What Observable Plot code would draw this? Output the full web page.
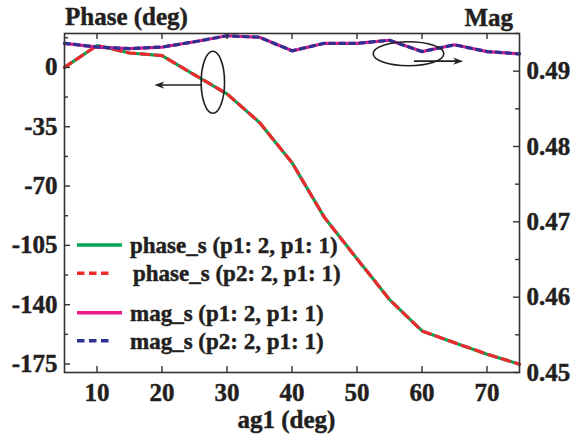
<!DOCTYPE html>
<html><head><meta charset="utf-8">
<script src="https://cdn.jsdelivr.net/npm/d3@7"></script>
<script src="https://cdn.jsdelivr.net/npm/@observablehq/plot@0.6"></script>
<style>
body{margin:0;background:#fff} svg{display:block}
svg text{font-family:'Liberation Serif','Times New Roman',serif !important;font-weight:bold !important;stroke:#231f20;stroke-width:0.45px;paint-order:stroke}
</style>
</head><body><div id="chart"></div>
<script>
// ---- data ----
const angle = [5, 10, 15, 20, 25, 30, 35, 40, 45, 50, 55, 60, 65, 70, 75];
const phaseP1 = [0, 12.9, 8.5, 7.0, -4.4, -15.6, -32.5, -56.2, -88.6, -112.9, -137, -155.5, -162.4, -169.2, -175.1];
const phaseP2 = [0, 12.9, 8.5, 7.0, -4.4, -15.6, -32.5, -56.2, -88.6, -112.9, -137, -155.5, -162.4, -169.2, -175.1];
const magP1 = [0.4937, 0.4932, 0.4930, 0.4932, 0.4939, 0.4947, 0.4945, 0.4927, 0.4937, 0.4937, 0.4941, 0.4926, 0.4935, 0.4926, 0.4923];
const magP2 = [0.4937, 0.4932, 0.4930, 0.4932, 0.4939, 0.4947, 0.4945, 0.4927, 0.4937, 0.4937, 0.4941, 0.4926, 0.4935, 0.4926, 0.4923];
const angleTicks = [10, 20, 30, 40, 50, 60, 70];
const phaseTicks = [0, -35, -70, -105, -140, -175];
const phaseMinorTicks = [17.5, -17.5, -52.5, -87.5, -122.5, -157.5];
const magTicks = [0.45, 0.46, 0.47, 0.48, 0.49];
const magMinorTicks = [0.455, 0.465, 0.475, 0.485, 0.495];
const seriesNames = ["phase_s (p1: 2, p1: 1)", "phase_s (p2: 2, p1: 1)", "mag_s (p1: 2, p1: 1)", "mag_s (p2: 2, p1: 1)"];
const seriesColors = ["#00a651", "#ee2a2f", "#ec1c8c", "#2e3192"];
const seriesDash = [null, "8,6", null, "5,5"];

// ---- layout ----
const W = 573, H = 440, mL = 64, mR = 54, mT = 33, mB = 68;
const frameH = H - mT - mB;
const phaseDomain = [-180, 20], magDomain = [0.45, 0.495];
const magToPhase = m => phaseDomain[0] + (m - magDomain[0]) / (magDomain[1] - magDomain[0]) * (phaseDomain[1] - phaseDomain[0]);
const phaseToMag = p => magDomain[0] + (p - phaseDomain[0]) / (phaseDomain[1] - phaseDomain[0]) * (magDomain[1] - magDomain[0]);
const rows = (ys, map = v => v) => angle.map((a, i) => ({angle: a, value: map(ys[i])}));
const ink = "#231f20";
const font = "'Liberation Serif', 'Times New Roman', serif";

const lineMark = (ys, k, map) => Plot.line(rows(ys, map), {
  x: "angle", y: "value", stroke: seriesColors[k], strokeWidth: 3.2,
  strokeDasharray: seriesDash[k]
});
const axisText = {fontSize: 25, fontWeight: "bold", fill: ink, tickSize: 0, label: null};

const plot = Plot.plot({
  width: W, height: H,
  marginLeft: mL, marginRight: mR, marginTop: mT, marginBottom: mB,
  style: {fontFamily: font, fontWeight: "bold", fontSize: "24px", color: ink, background: "white"},
  x: {domain: [5, 75]},
  y: {domain: phaseDomain},
  marks: [
    lineMark(phaseP1, 0),
    lineMark(phaseP2, 1),
    lineMark(magP1, 2, magToPhase),
    lineMark(magP2, 3, magToPhase),
    Plot.frame({stroke: "#333", strokeWidth: 1.6}),
    // inward ticks
    Plot.tickX(angleTicks, {x: d => d, insetTop: frameH - 6, stroke: "#333", strokeWidth: 1.4}),
    Plot.tickX(angleTicks, {x: d => d, insetBottom: frameH - 6, stroke: "#333", strokeWidth: 1.4}),
    Plot.tickY(phaseTicks, {y: d => d, insetRight: W - mL - mR - 6, stroke: "#333", strokeWidth: 1.4}),
    Plot.tickY(phaseMinorTicks, {y: d => d, insetRight: W - mL - mR - 4, stroke: "#333", strokeWidth: 1.4}),
    Plot.tickY(magTicks.map(magToPhase), {y: d => d, insetLeft: W - mL - mR - 6, stroke: "#333", strokeWidth: 1.4}),
    Plot.tickY(magMinorTicks.map(magToPhase), {y: d => d, insetLeft: W - mL - mR - 4, stroke: "#333", strokeWidth: 1.4}),
    // tick labels
    Plot.axisX({...axisText, ticks: angleTicks, tickPadding: 11, tickFormat: d => String(d)}),
    Plot.axisY({...axisText, ticks: phaseTicks, tickPadding: 7, tickFormat: d => String(d)}),
    Plot.axisY({...axisText, anchor: "right", ticks: magTicks.map(magToPhase), tickPadding: 7,
      tickFormat: d => phaseToMag(d).toFixed(2)})
  ]
});

document.getElementById("chart").appendChild(plot);

const svg = d3.select(plot);
const sx = v => plot.scale("x").apply(v);
const sy = v => plot.scale("y").apply(v);

// titles
const addText = (sel, x, y, t, size, anchor = "start") => sel.append("text")
  .attr("x", x).attr("y", y).attr("text-anchor", anchor)
  .style("font-size", size + "px")
  .attr("fill", ink).text(t);
addText(svg, mL + 1, 25, "Phase (deg)", 25);
addText(svg, W - mR - 6, 26, "Mag", 25, "end");
addText(svg, (mL + W - mR) / 2 - 5, 428, "ag1 (deg)", 25, "middle");

// annotations: ellipses + arrows (placed in data coordinates)
const ann = svg.append("g").attr("fill", "none").attr("stroke", ink).attr("stroke-width", 1.6);
ann.append("ellipse").attr("cx", sx(27.9)).attr("cy", sy(-9.1)).attr("rx", 11.7).attr("ry", 31);
ann.append("ellipse").attr("cx", sx(58.0)).attr("cy", sy(7.8)).attr("rx", 35.3).attr("ry", 12);
const arrow = (x1, x2, yv) => {
  const X1 = sx(x1), X2 = sx(x2), Y = sy(yv), d = Math.sign(X2 - X1);
  ann.append("line").attr("x1", X1).attr("x2", X2 - d * 5).attr("y1", Y).attr("y2", Y);
  ann.append("path").attr("fill", ink).attr("stroke", "none")
    .attr("d", `M${X2},${Y} L${X2 - d * 10},${Y - 3.6} L${X2 - d * 7},${Y} L${X2 - d * 10},${Y + 3.6} Z`);
};
arrow(26.2, 18.9, -10.7);
arrow(58.85, 66.4, 3.4);

// legend (inside the frame, lower-left)
const legendY = [245, 273.3, 312.7, 340.7];
const leg = svg.append("g");
seriesNames.forEach((name, k) => {
  leg.append("line").attr("x1", 77).attr("x2", seriesDash[k] ? 111 : 122)
    .attr("y1", legendY[k]).attr("y2", legendY[k])
    .attr("stroke", seriesColors[k]).attr("stroke-width", 3.4)
    .attr("stroke-dasharray", seriesDash[k] ? "7.5,4.5" : null);
  addText(leg, k === 1 ? 133 : 130, legendY[k] + 8, name, 23, "start");
});
</script>
</body></html>
